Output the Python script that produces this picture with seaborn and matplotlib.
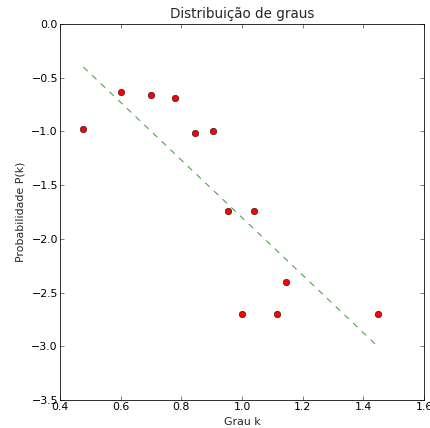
import numpy as np
import pandas as pd
import matplotlib
matplotlib.use("Agg")
import matplotlib.pyplot as plt
import seaborn as sns

# log10 of degree k and log10 of probability P(k)
grau_log = [0.477, 0.602, 0.699, 0.778, 0.845, 0.903, 0.954, 1.000, 1.041, 1.114, 1.146, 1.447]
prob_log = [-0.98, -0.634, -0.658, -0.69, -1.018, -1.0, -1.745, -2.70, -1.745, -2.70, -2.40, -2.70]

# fitted power-law line (log-log): y = slope * x + intercept
fit_slope = -2.68
fit_intercept = 0.878

title = "Distribuição de graus"
xlabel = "Grau k"
ylabel = "Probabilidade P(k)"

sns.set_style("white", {
    "xtick.direction": "in", "ytick.direction": "in",
    "xtick.top": True, "ytick.right": True,
    "xtick.bottom": True, "ytick.left": True,
    "axes.edgecolor": "black", "axes.linewidth": 1.0,
})
plt.rcParams["font.family"] = ["DejaVu Sans"]
plt.rcParams["axes.unicode_minus"] = True

df = pd.DataFrame({"x": grau_log, "y": prob_log})
fit_x = np.array([grau_log[0], grau_log[-1]])
fit_df = pd.DataFrame({"x": fit_x, "y": fit_slope * fit_x + fit_intercept})

fig = plt.figure(figsize=(430 / 72, 428 / 72), dpi=72)
ax = fig.add_axes([60 / 430, 1 - 400 / 428, (424 - 60) / 430, (400 - 24) / 428])

sns.lineplot(data=fit_df, x="x", y="y", ax=ax, color="#3a9a3a", linewidth=1.0,
             linestyle=(0, (6, 6)))
sns.scatterplot(data=df, x="x", y="y", ax=ax, color="red", edgecolor="black",
                linewidth=0.5, s=42, zorder=3)

ax.set_xlim(0.4, 1.6)
ax.set_ylim(-3.5, 0.0)
ax.set_xticks(np.arange(0.4, 1.61, 0.2))
ax.set_yticks(np.arange(-3.5, 0.01, 0.5))
ax.tick_params(axis="both", which="major", length=4, width=0.5, labelsize=11,
               color="black", labelcolor="black", pad=2)
ax.set_title(title, fontsize=13.5, pad=6)
ax.set_xlabel(xlabel, fontsize=11, labelpad=5)
ax.set_ylabel(ylabel, fontsize=11, labelpad=6)

fig.savefig("out.png", dpi=72)
